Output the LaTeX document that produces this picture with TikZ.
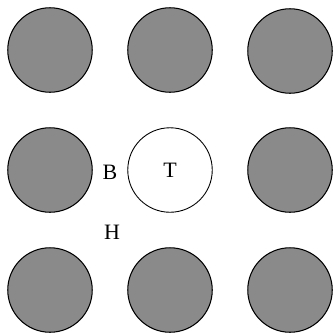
\documentclass[tikz,border=0pt]{standalone}
\usepackage{fontspec}
\setmainfont{Liberation Serif}
\usetikzlibrary{positioning}
\definecolor{rodgray}{HTML}{8A8A8A}

\begin{document}
\begin{tikzpicture}[x=0.02cm, y=-0.02cm, every node/.style={font=\fontsize{12.5}{14}\selectfont},
    rod/.style={draw, circle, fill=rodgray, line width=0.6pt, minimum size=1.69cm, inner sep=0pt},
    target/.style={draw, circle, fill=white, line width=0.5pt, minimum size=1.69cm, inner sep=0pt}]
  \useasboundingbox (0,0) rectangle (333,332);
  % top row
  \node[rod] (r11) at (50, 50) {};
  \node[rod] (r12) at (170, 50) {};
  \node[rod] (r13) at (290, 51) {};
  % middle row
  \node[rod] (r21) at (50, 170) {};
  \node[target] (t) at (170, 170) {T};
  \node[rod] (r23) at (290, 170) {};
  % bottom row
  \node[rod] (r31) at (50, 290) {};
  \node[rod] (r32) at (170, 290) {};
  \node[rod] (r33) at (290, 290) {};
  % labels
  \node (b) at (110, 172) {B};
  \node (h) at (112, 232) {H};
\end{tikzpicture}
\end{document}
